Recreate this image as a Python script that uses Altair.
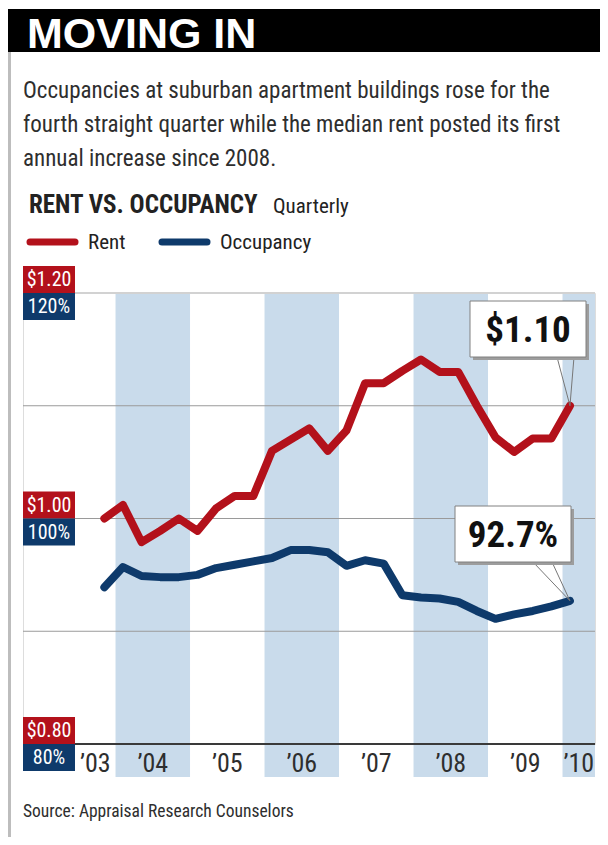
import altair as alt
import pandas as pd

# ---------------- data ----------------
quarters = ["2003 Q4",
            "2004 Q1", "2004 Q2", "2004 Q3", "2004 Q4",
            "2005 Q1", "2005 Q2", "2005 Q3", "2005 Q4",
            "2006 Q1", "2006 Q2", "2006 Q3", "2006 Q4",
            "2007 Q1", "2007 Q2", "2007 Q3", "2007 Q4",
            "2008 Q1", "2008 Q2", "2008 Q3", "2008 Q4",
            "2009 Q1", "2009 Q2", "2009 Q3", "2009 Q4",
            "2010 Q1"]
rent = [1.000,
        1.012, 0.979, 0.989, 1.000,
        0.989, 1.009, 1.020, 1.020,
        1.060, 1.070, 1.080, 1.060,
        1.078, 1.120, 1.120, 1.131,
        1.141, 1.130, 1.130, 1.100,
        1.072, 1.059, 1.071, 1.071,
        1.100]
occupancy = [93.9,
             95.7, 94.9, 94.8, 94.8,
             95.0, 95.6, 95.9, 96.2,
             96.5, 97.2, 97.2, 97.0,
             95.8, 96.3, 96.0, 93.2,
             93.0, 92.9, 92.6, 91.8,
             91.1, 91.5, 91.8, 92.2,
             92.7]
years = [2003, 2004, 2005, 2006, 2007, 2008, 2009, 2010]
year_labels = ["’03", "’04", "’05", "’06", "’07", "’08", "’09", "’10"]
rent_ticks = [0.80, 0.90, 1.00, 1.10, 1.20]
rent_axis_values = [0.80, 1.00, 1.20]
rent_axis_labels = ["$0.80", "$1.00", "$1.20"]
occ_axis_values = [80, 100, 120]
occ_axis_labels = ["80%", "100%", "120%"]

title = "MOVING IN"
subtitle = ["Occupancies at suburban apartment buildings rose for the",
            "fourth straight quarter while the median rent posted its first",
            "annual increase since 2008."]
chart_head = "RENT VS. OCCUPANCY"
chart_sub = "Quarterly"
series_names = ["Rent", "Occupancy"]
source = "Source: Appraisal Research Counselors"

# ---------------- style / layout ----------------
RED = "#b3111b"
BLUE = "#0e3a6b"
BAND = "#c9dbeb"
TXT = "#2e2e2e"
NARROW = "Roboto Condensed, DejaVu Sans Condensed, sans-serif"
BOLDF = "Liberation Sans, Arial, sans-serif"

W, H = 572, 451
XMIN, XMAX = 2002.758, 2010.436
PX_PER_YEAR = W / (XMAX - XMIN)
BOX_W = 52
BOX_H = 27
LBL_MIN = XMIN + BOX_W / PX_PER_YEAR

XS = alt.Scale(domain=[XMIN, XMAX], nice=False, zero=False)
RS = alt.Scale(domain=[0.8, 1.2], nice=False, zero=False)
OS = alt.Scale(domain=[80, 120], nice=False, zero=False)

T_EXPR = ("toNumber(substring(datum.quarter,0,4)) + "
          "(toNumber(substring(datum.quarter,6,7)) - 1) / 4 + 0.1")

df = pd.DataFrame({"quarter": quarters, "rent": rent, "occ": occupancy})
base = alt.Chart(df).transform_calculate(t=T_EXPR)
X = alt.X("t:Q", scale=XS, axis=None)

years_df = pd.DataFrame({"year": years, "label": year_labels})

layers = []

# alternating bands
layers.append(
    alt.Chart(years_df).transform_filter("datum.year % 2 == 0")
    .transform_calculate(start="datum.year", end=f"min(datum.year + 1, {XMAX})")
    .mark_rect(color=BAND)
    .encode(x=alt.X("start:Q", scale=XS, axis=None), x2="end:Q",
            y=alt.value(0), y2=alt.value(484))
)

# grid lines
ticks_df = pd.DataFrame({"v": rent_ticks})
def grid(test, color, width):
    return (alt.Chart(ticks_df).transform_filter(test)
            .mark_rule(color=color, strokeWidth=width)
            .encode(y=alt.Y("v:Q", scale=RS, axis=None), x=alt.value(0), x2=alt.value(W)))
layers.append(grid("datum.v > 0.85 && datum.v < 1.15", "#9a9a9a", 1))
layers.append(grid("datum.v >= 1.15", "#d2d2d2", 2))
layers.append(grid("datum.v <= 0.85", "#3a3a3a", 2))

# lines
layers.append(base.mark_line(color=BLUE, strokeWidth=8, strokeJoin="round", strokeCap="round")
              .encode(x=X, y=alt.Y("occ:Q", scale=OS, axis=None)))
layers.append(base.mark_line(color=RED, strokeWidth=8, strokeJoin="round", strokeCap="round")
              .encode(x=X, y=alt.Y("rent:Q", scale=RS, axis=None)))

# axis label boxes
r_df = pd.DataFrame({"v": rent_axis_values, "lab": rent_axis_labels})
o_df = pd.DataFrame({"v": occ_axis_values, "lab": occ_axis_labels})
r_step = BOX_H / H * 0.4
o_step = BOX_H / H * 40
layers.append(alt.Chart(r_df).transform_calculate(v2=f"datum.v + {r_step}")
              .mark_rect(color=RED)
              .encode(y=alt.Y("v:Q", scale=RS, axis=None), y2="v2:Q",
                      x=alt.value(0), x2=alt.value(BOX_W)))
layers.append(alt.Chart(r_df).mark_text(font=NARROW, fontSize=20, color="white",
                                         align="center", baseline="middle", dy=-13)
              .encode(y=alt.Y("v:Q", scale=RS, axis=None), x=alt.value(BOX_W / 2), text="lab:N"))
layers.append(alt.Chart(o_df).transform_calculate(v2=f"datum.v - {o_step}")
              .mark_rect(color=BLUE)
              .encode(y=alt.Y("v:Q", scale=OS, axis=None), y2="v2:Q",
                      x=alt.value(0), x2=alt.value(BOX_W)))
layers.append(alt.Chart(o_df).mark_text(font=NARROW, fontSize=20, color="white",
                                         align="center", baseline="middle", dy=14)
              .encode(y=alt.Y("v:Q", scale=OS, axis=None), x=alt.value(BOX_W / 2), text="lab:N"))

# year labels
layers.append(
    alt.Chart(years_df)
    .transform_calculate(lx=f"(max(datum.year, {LBL_MIN}) + min(datum.year + 1, {XMAX})) / 2")
    .mark_text(font=NARROW, fontSize=26, color=TXT, align="center", baseline="alphabetic")
    .encode(x=alt.X("lx:Q", scale=XS, axis=None), y=alt.value(479), text="label:N")
)

# callouts
last = pd.DataFrame({"quarter": [quarters[-1]], "rent": [rent[-1]], "occ": [occupancy[-1]]})
last_base = alt.Chart(last).transform_calculate(
    t=T_EXPR,
    rlab="'$' + format(datum.rent, '.2f')",
    olab="format(datum.occ, '.1f') + '%'",
)

def callout(field, scale, bx0, by0, bw, bh, p1, p2, lab, tx, ty):
    out = []
    for px in (p1, p2):
        out.append(last_base.mark_rule(color="#777", strokeWidth=1)
                   .encode(x=X, y=alt.Y(f"{field}:Q", scale=scale, axis=None),
                           x2=alt.value(px), y2=alt.value(by0 + bh)))
    out.append(last_base.mark_rect(color="#9d9d9d")
               .encode(x=alt.value(bx0 + 3), x2=alt.value(bx0 + bw + 3),
                       y=alt.value(by0 + 3), y2=alt.value(by0 + bh + 3)))
    out.append(last_base.mark_rect(fill="white", stroke="#808080", strokeWidth=1)
               .encode(x=alt.value(bx0), x2=alt.value(bx0 + bw),
                       y=alt.value(by0), y2=alt.value(by0 + bh)))
    out.append(last_base.mark_text(font=NARROW, fontWeight="bold", fontSize=37, color="#111",
                                   align="center", baseline="alphabetic")
               .encode(x=alt.value(tx), y=alt.value(ty), text=f"{lab}:N"))
    return out

layers += callout("rent", RS, 447, 8, 116, 56, 534, 551, "rlab", 505, 49)
layers += callout("occ", OS, 432, 213, 116, 56, 510, 529, "olab", 490, 254)

# ---------- header / footer decorations ----------
def one(s):
    return alt.Chart(pd.DataFrame({"s": [s]}))

layers.append(one("bar").mark_rect(color="black")
              .encode(x=alt.value(-15), x2=alt.value(577), y=alt.value(-284), y2=alt.value(-241)))
layers.append(one("border").mark_rule(color="#bdbdbd", strokeWidth=3)
              .encode(x=alt.value(-13.5), y=alt.value(-241), y2=alt.value(544)))
layers.append(one(title).mark_text(font=BOLDF, fontWeight="bold", fontSize=43, color="white",
                                   align="left", baseline="alphabetic")
              .encode(x=alt.value(4), y=alt.value(-245), text="s:N"))
layers.append(alt.Chart(pd.DataFrame({"i": [0]}))
              .mark_text(font=NARROW, fontSize=23, color=TXT, align="left",
                         baseline="alphabetic", lineHeight=34)
              .encode(x=alt.value(0), y=alt.value(-195), text=alt.value(subtitle)))
layers.append(one(chart_head).mark_text(font=NARROW, fontWeight="bold", fontSize=25, color="#222",
                                        align="left", baseline="alphabetic")
              .encode(x=alt.value(6), y=alt.value(-80), text="s:N"))
layers.append(one(chart_sub).mark_text(font=NARROW, fontSize=21, color="#222",
                                       align="left", baseline="alphabetic")
              .encode(x=alt.value(250), y=alt.value(-80), text="s:N"))

# legend
for name, color, x0 in ((series_names[0], RED, 7), (series_names[1], BLUE, 139)):
    layers.append(one(name).mark_rule(color=color, strokeWidth=7, strokeCap="round")
                  .encode(x=alt.value(x0), x2=alt.value(x0 + 45), y=alt.value(-51)))
    layers.append(one(name).mark_text(font=NARROW, fontSize=21, color="#222",
                                      align="left", baseline="alphabetic")
                  .encode(x=alt.value(x0 + 58), y=alt.value(-44), text="s:N"))

layers.append(one(source).mark_text(font=NARROW, fontSize=17.5, color=TXT,
                                    align="left", baseline="alphabetic")
              .encode(x=alt.value(0), y=alt.value(524), text="s:N"))

chart = (alt.layer(*layers)
         .resolve_scale(y="independent")
         .properties(width=W, height=H,
                     padding={"left": 15, "top": 285, "right": 5, "bottom": 93},
                     autosize=alt.AutoSizeParams(type="none"))
         .configure_view(stroke=None)
         .configure(background="white"))

chart.save("out.html", embed_options={"renderer": "svg", "actions": False})
